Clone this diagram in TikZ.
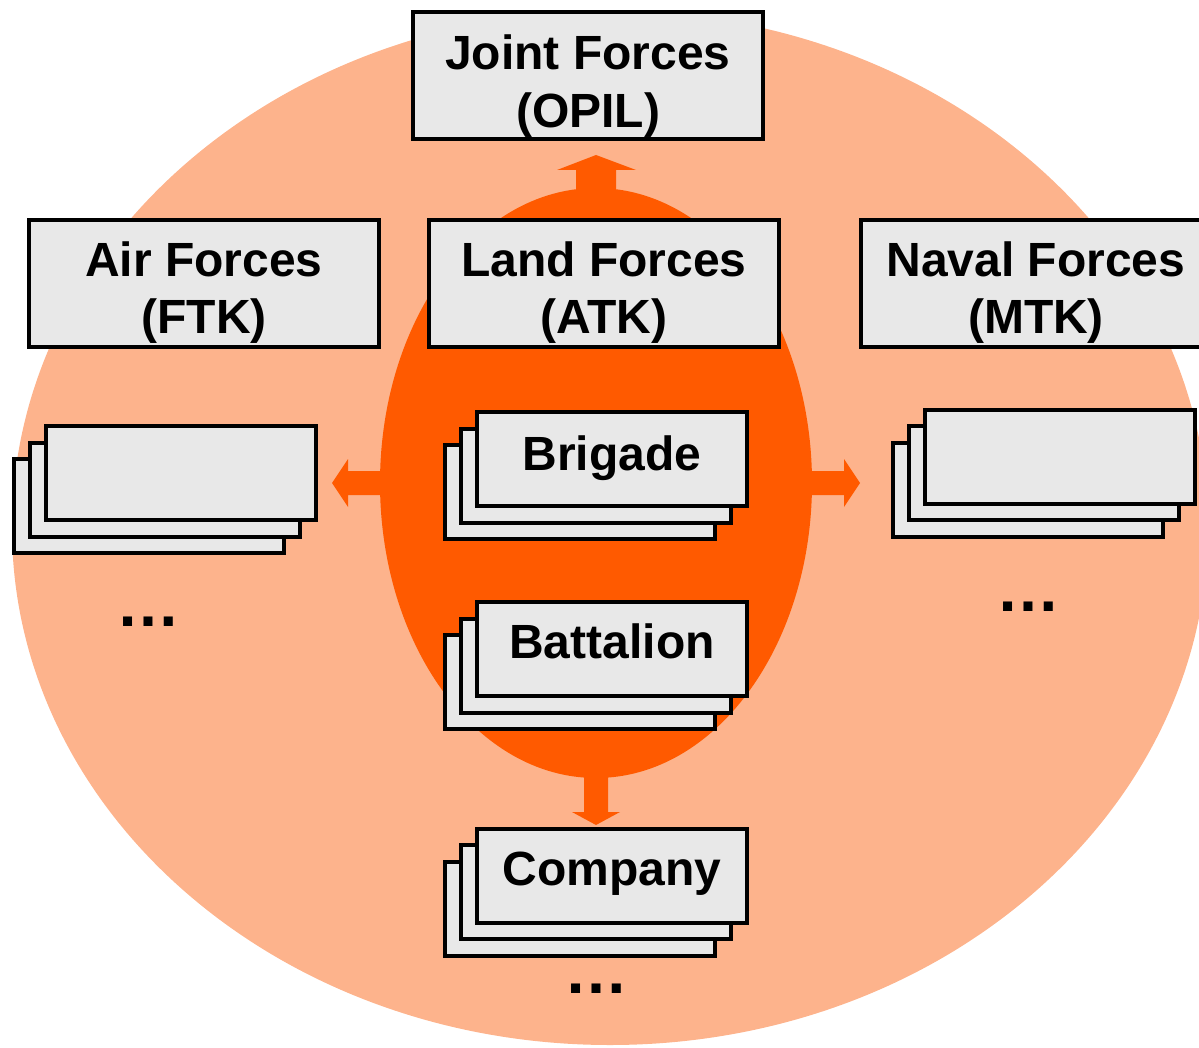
\documentclass[tikz,border=0pt]{standalone}
\usepackage{fontspec}
\setmainfont{Liberation Sans}
\usetikzlibrary{shapes.geometric,calc}
\definecolor{fieldorange}{RGB}{253,179,140}
\definecolor{coreorange}{RGB}{255,90,0}
\definecolor{panelgray}{RGB}{232,232,232}
\begin{document}
\begin{tikzpicture}[x=1pt,y=-1pt,
  panel/.style={draw=black, line width=4pt, fill=panelgray, rectangle,
    inner sep=0pt, outer sep=0pt, minimum width=350pt, minimum height=127pt},
  card/.style={draw=black, line width=4pt, fill=panelgray, rectangle,
    inner sep=0pt, outer sep=0pt, minimum width=270pt, minimum height=94pt},
  lbl/.style={anchor=base, inner sep=0pt, font=\bfseries\fontsize{48}{58}\selectfont},
  more/.style={anchor=base, inner sep=0pt, font=\bfseries\fontsize{64}{70}\selectfont},
  blockarrow/.style={fill=coreorange, draw=none}]
\useasboundingbox (0,0) rectangle (1199,1048);
\clip (0,0) rectangle (1199,1048);

% background fields
\node[ellipse, fill=fieldorange, minimum width=1196pt, minimum height=1034pt,
  inner sep=0pt, outer sep=0pt] (field) at (610,528) {};
\node[ellipse, fill=coreorange, minimum width=432pt, minimum height=590pt,
  inner sep=0pt, outer sep=0pt] (core) at (596,483) {};

% block arrows leaving the land forces core
\fill[blockarrow] ($(core.north)+(-20,12)$) -- ($(core.north)+(-20,-18)$)
  -- ($(core.north)+(-39,-18)$) -- ($(core.north)+(0,-33)$)
  -- ($(core.north)+(40,-18)$) -- ($(core.north)+(20,-18)$)
  -- ($(core.north)+(20,12)$) -- cycle;
\fill[blockarrow] ($(core.south)+(-12,-8)$) -- ($(core.south)+(-12,34)$)
  -- ($(core.south)+(-24,34)$) -- ($(core.south)+(0,47)$)
  -- ($(core.south)+(24,34)$) -- ($(core.south)+(12,34)$)
  -- ($(core.south)+(12,-8)$) -- cycle;
\fill[blockarrow] ($(core.west)+(8,-12)$) -- ($(core.west)+(-32,-12)$)
  -- ($(core.west)+(-32,-24)$) -- ($(core.west)+(-48,0)$)
  -- ($(core.west)+(-32,24)$) -- ($(core.west)+(-32,12)$)
  -- ($(core.west)+(8,12)$) -- cycle;
\fill[blockarrow] ($(core.east)+(-8,-12)$) -- ($(core.east)+(32,-12)$)
  -- ($(core.east)+(32,-24)$) -- ($(core.east)+(48,0)$)
  -- ($(core.east)+(32,24)$) -- ($(core.east)+(32,12)$)
  -- ($(core.east)+(-8,12)$) -- cycle;

% force headquarters
\node[panel] (joint) at (588,75.5) {};
\node[panel] (air)   at (204,283.5) {};
\node[panel] (land)  at (604,283.5) {};
\node[panel] (naval) at (1036,283.5) {};

\node[lbl] (jointA) at (588,70)  {Joint Forces};
\node[lbl] (jointB) at (588,128) {(OPIL)};
\node[lbl] (airA)   at (204,277) {Air Forces};
\node[lbl] (airB)   at (204,334) {(FTK)};
\node[lbl] (landA)  at (604,277) {Land Forces};
\node[lbl] (landB)  at (604,334) {(ATK)};
\node[lbl] (navalA) at (1036,277) {Naval Forces};
\node[lbl] (navalB) at (1036,334) {(MTK)};

% stacked unit cards
\node[card] (airC)  at (148.5,506) {};
\node[card] (airM)  at (164.5,489.5) {};
\node[card] (airF)  at (180.5,473) {};

\node[card] (navC)  at (1028,489.5) {};
\node[card] (navM)  at (1044,473) {};
\node[card] (navF)  at (1060,456.5) {};

\node[card] (brigC) at (580,492) {};
\node[card] (brigM) at (596,475.5) {};
\node[card] (brigF) at (612,459) {};
\node[lbl]  (brigT) at (612,470) {Brigade};

\node[card] (batC)  at (580,682) {};
\node[card] (batM)  at (596,665.5) {};
\node[card] (batF)  at (612,649) {};
\node[lbl]  (batT)  at (612,658) {Battalion};

\node[card] (coyC)  at (580,908.5) {};
\node[card] (coyM)  at (596,892) {};
\node[card] (coyF)  at (612,875.5) {};
\node[lbl]  (coyT)  at (612,885) {Company};

% continuation marks
\node[more] (airMore) at (148,626)  {…};
\node[more] (navMore) at (1028,611) {…};
\node[more] (coyMore) at (596,993)  {…};
\end{tikzpicture}
\end{document}
